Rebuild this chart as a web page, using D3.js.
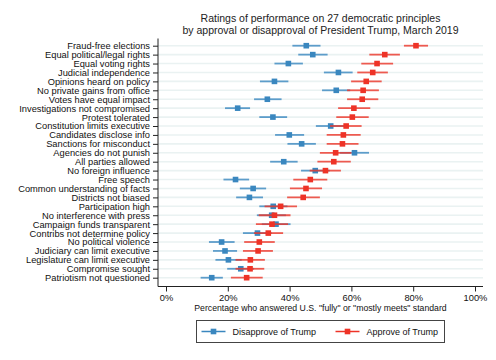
<!DOCTYPE html>
<html><head><meta charset="utf-8">
<script src="https://cdn.jsdelivr.net/npm/d3@7"></script>
<style>body{margin:0;background:#fff;} svg{display:block;font-family:"Liberation Sans",Arial,Helvetica,sans-serif;}</style>
</head><body><svg id="c" width="496" height="360"></svg>
<script>
const categories = ["Fraud-free elections","Equal political/legal rights","Equal voting rights","Judicial independence","Opinions heard on policy","No private gains from office","Votes have equal impact","Investigations not compromised","Protest tolerated","Constitution limits executive","Candidates disclose info","Sanctions for misconduct","Agencies do not punish","All parties allowed","No foreign influence","Free speech","Common understanding of facts","Districts not biased","Participation high","No interference with press","Campaign funds transparent","Contribs not determine policy","No political violence","Judiciary can limit executive","Legislature can limit executive","Compromise sought","Patriotism not questioned"];
const disapprove = [45.4,47.5,39.6,55.8,35.1,55.1,32.8,23.2,34.6,53.3,39.9,43.9,61.0,38.1,48.3,22.5,28.2,27.0,34.7,34.2,35.6,29.6,18.0,19.1,20.2,24.2,14.8];
const disLo = [40.9,42.8,35.1,51.1,30.4,50.5,28.5,19.1,30.2,48.5,35.3,39.3,56.3,33.7,43.7,18.6,23.9,22.7,30.2,29.4,31.0,24.9,13.9,15.2,16.0,19.8,11.2];
const disHi = [50.0,52.3,44.3,60.4,39.6,59.6,37.4,27.2,39.2,57.7,44.7,48.5,65.7,42.6,53.0,26.9,32.4,31.4,39.3,38.8,40.3,34.2,22.2,23.0,24.5,28.5,18.4];
const approve = [80.9,70.8,68.3,66.9,64.8,63.8,63.5,60.8,60.3,58.3,57.4,57.1,54.9,54.3,51.6,46.7,45.3,44.4,37.1,35.1,34.3,33.1,30.2,29.8,27.3,27.2,26.1];
const appLo = [77.0,65.8,63.2,61.9,59.9,58.6,58.6,55.7,55.1,53.1,52.0,52.0,49.8,49.0,46.5,41.2,40.1,39.2,31.9,30.0,29.1,28.5,25.3,24.9,22.5,22.5,21.0];
const appHi = [84.8,75.7,73.5,71.8,69.8,68.9,68.7,66.1,65.6,63.3,63.0,62.3,60.0,59.8,56.6,52.2,50.5,49.8,42.4,40.3,39.5,37.9,35.2,34.6,32.0,31.8,31.3];
const xTicks = [0,20,40,60,80,100];
const titleLines = ["Ratings of performance on 27 democratic principles","by approval or disapproval of President Trump, March 2019"];
const xTitle = 'Percentage who answered U.S. "fully" or "mostly meets" standard';
const seriesNames = ["Disapprove of Trump","Approve of Trump"];

const BLUE = "#3a87bf", RED = "#ee3327";
const svg = d3.select("#c");
const x = d3.scaleLinear().domain([0,100]).range([166,475]);
const y = d3.scalePoint().domain(categories).range([45.7,277.7]);
const axL = 158, axR = 483, axB = 286.5;

// gridlines
svg.append("g").selectAll("line").data(categories).join("line")
  .attr("x1",axL).attr("x2",axR).attr("y1",d=>y(d)).attr("y2",d=>y(d))
  .attr("stroke","#eaf2f2").attr("stroke-width",1.6);

// title
svg.append("g").selectAll("text").data(titleLines).join("text")
  .attr("x",320.5).attr("y",(d,i)=>21.5+i*12).attr("text-anchor","middle")
  .attr("font-size",10.5).attr("fill","#222").text(d=>d);

// y axis
const yAxis = svg.append("g").attr("transform",`translate(${axL},0)`)
  .call(d3.axisLeft(y).tickSize(5).tickPadding(3));
yAxis.select(".domain").attr("d",`M0,38.5V${axB}`).attr("stroke","#222");
yAxis.selectAll(".tick line").attr("stroke","#222");
yAxis.selectAll("text").attr("font-size",9.3).attr("fill","#111").attr("font-family",'"Liberation Sans",Arial,sans-serif');

// x axis
const xAxis = svg.append("g").attr("transform",`translate(0,${axB})`)
  .call(d3.axisBottom(x).tickValues(xTicks).tickFormat(d=>d+"%").tickSize(5).tickPadding(3));
xAxis.select(".domain").attr("d",`M${axL},0H${axR}`).attr("stroke","#222");
xAxis.selectAll(".tick line").attr("stroke","#222");
xAxis.selectAll("text").attr("font-size",9.3).attr("fill","#111").attr("font-family",'"Liberation Sans",Arial,sans-serif');

svg.append("text").attr("x",320.5).attr("y",311).attr("text-anchor","middle")
  .attr("font-size",8.7).attr("fill","#111").text(xTitle);

// series
function drawSeries(vals, lo, hi, color){
  const g = svg.append("g");
  g.selectAll("line").data(categories).join("line")
    .attr("x1",(d,i)=>x(lo[i])).attr("x2",(d,i)=>x(hi[i]))
    .attr("y1",d=>y(d)).attr("y2",d=>y(d))
    .attr("stroke",color).attr("stroke-width",1.8).attr("stroke-opacity",0.8);
  g.selectAll("rect").data(categories).join("rect")
    .attr("x",(d,i)=>x(vals[i])-2.8).attr("y",d=>y(d)-2.8)
    .attr("width",5.6).attr("height",5.6).attr("fill",color);
}
drawSeries(disapprove,disLo,disHi,BLUE);
drawSeries(approve,appLo,appHi,RED);

// legend
const lg = svg.append("g");
lg.append("rect").attr("x",196.5).attr("y",320.5).attr("width",248).attr("height",22)
  .attr("fill","#fff").attr("stroke","#444").attr("stroke-width",1);
const items = [{name:seriesNames[0],c:BLUE,x0:201.5},{name:seriesNames[1],c:RED,x0:335.5}];
items.forEach(it=>{
  lg.append("line").attr("x1",it.x0).attr("x2",it.x0+24).attr("y1",331.5).attr("y2",331.5)
    .attr("stroke",it.c).attr("stroke-width",1.5);
  lg.append("rect").attr("x",it.x0+12-2.8).attr("y",331.5-2.8).attr("width",5.6).attr("height",5.6).attr("fill",it.c);
  lg.append("text").attr("x",it.x0+31).attr("y",334.8).attr("font-size",9).attr("fill","#111").text(it.name);
});
</script></body></html>
